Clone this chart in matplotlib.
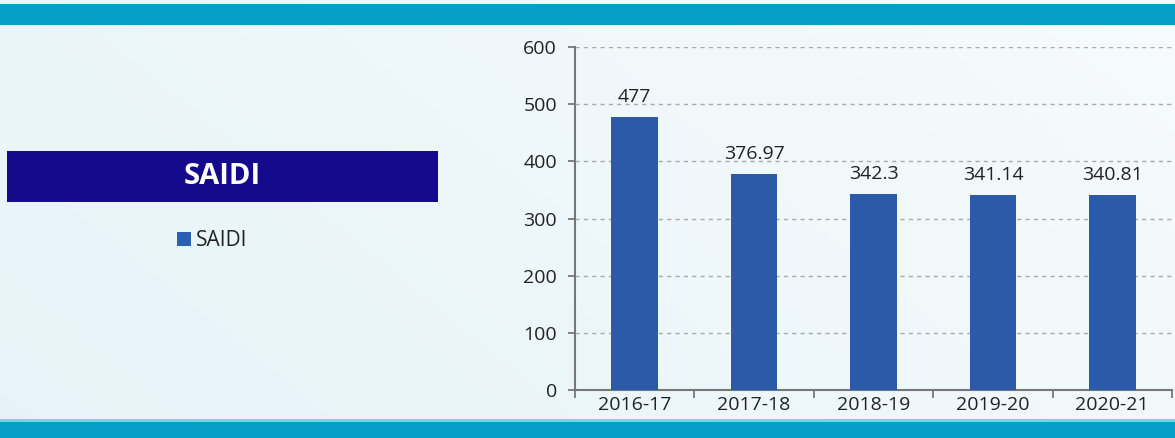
import numpy as np
import matplotlib.pyplot as plt
from matplotlib.patches import Rectangle

years = ["2016-17", "2017-18", "2018-19", "2019-20", "2020-21"]
saidi = [477, 376.97, 342.3, 341.14, 340.81]
value_labels = ["477", "376.97", "342.3", "341.14", "340.81"]
y_ticks = [0, 100, 200, 300, 400, 500, 600]

plt.rcParams['font.family'] = ['Open Sans', 'DejaVu Sans']

W, H = 1175, 438
fig = plt.figure(figsize=(W / 100, H / 100), dpi=100)

# soft background wash
bg = fig.add_axes([0, 0, 1, 1], zorder=-10)
gx = np.linspace(0, 1, 256)
gy = np.linspace(0, 1, 64)
X, Y = np.meshgrid(gx, gy)
t = np.clip(0.55 * X + 0.25 * (1 - Y), 0, 1)
c0 = np.array([0.90, 0.955, 0.975])
c1 = np.array([0.985, 0.99, 0.99])
img = c0[None, None, :] * (1 - t[..., None]) + c1[None, None, :] * t[..., None]
bg.imshow(img, extent=[0, W, 0, H], aspect='auto', origin='lower')
bg.set_xlim(0, W)
bg.set_ylim(H, 0)
bg.axis('off')

# top and bottom bands
bg.add_patch(Rectangle((0, 4), W, 21, color='#069fc6', lw=0))
bg.add_patch(Rectangle((0, 421), W, 17, color='#069fc6', lw=0))
bg.add_patch(Rectangle((0, 419), W, 3, color='#7fd0e3', lw=0))

# title box
bg.add_patch(Rectangle((7, 151), 431, 51, color='#150a8c', lw=0))
bg.text(222, 177, "SAIDI", color='white', fontsize=21, fontweight='bold',
        ha='center', va='center')

# legend entry
bg.add_patch(Rectangle((177, 232), 14, 14, color='#2b5fb0', lw=0))
bg.text(196, 240, "SAIDI", color='#222222', fontsize=15, ha='left', va='center')

# bar chart
ax = fig.add_axes([575 / W, 48 / H, (1172 - 575) / W, (391 - 48) / H])
ax.set_facecolor('none')
x = np.arange(len(years))
bars = ax.bar(x, saidi, width=0.39, color='#2a5aa8', zorder=3)
for xi, v, lab in zip(x, saidi, value_labels):
    ax.annotate(lab, (xi, v), xytext=(0, 8), textcoords='offset points',
                ha='center', va='bottom', fontsize=14, color='#222222')

ax.set_xlim(-0.5, len(years) - 0.5)
ax.set_ylim(0, 600)
ax.set_yticks(y_ticks)
ax.set_yticklabels([str(v) for v in y_ticks], fontsize=14, color='#222222')
ax.yaxis.grid(True, linestyle=(0, (3, 3)), color='#aaaaaa', lw=1, zorder=0)

ax.set_xticks(np.arange(len(years) + 1) - 0.5)
ax.set_xticklabels([])
ax.set_xticks(x, minor=True)
ax.set_xticklabels(years, minor=True, fontsize=14, color='#222222')
ax.tick_params(axis='x', which='minor', length=0, pad=4)
ax.tick_params(axis='x', which='major', length=6, color='#777777', width=1.3)
ax.tick_params(axis='y', length=5, color='#777777', width=1.3, pad=8)

for s in ['top', 'right']:
    ax.spines[s].set_visible(False)
for s in ['left', 'bottom']:
    ax.spines[s].set_color('#777777')
    ax.spines[s].set_linewidth(1.5)

fig.savefig('out.png', dpi=100)
